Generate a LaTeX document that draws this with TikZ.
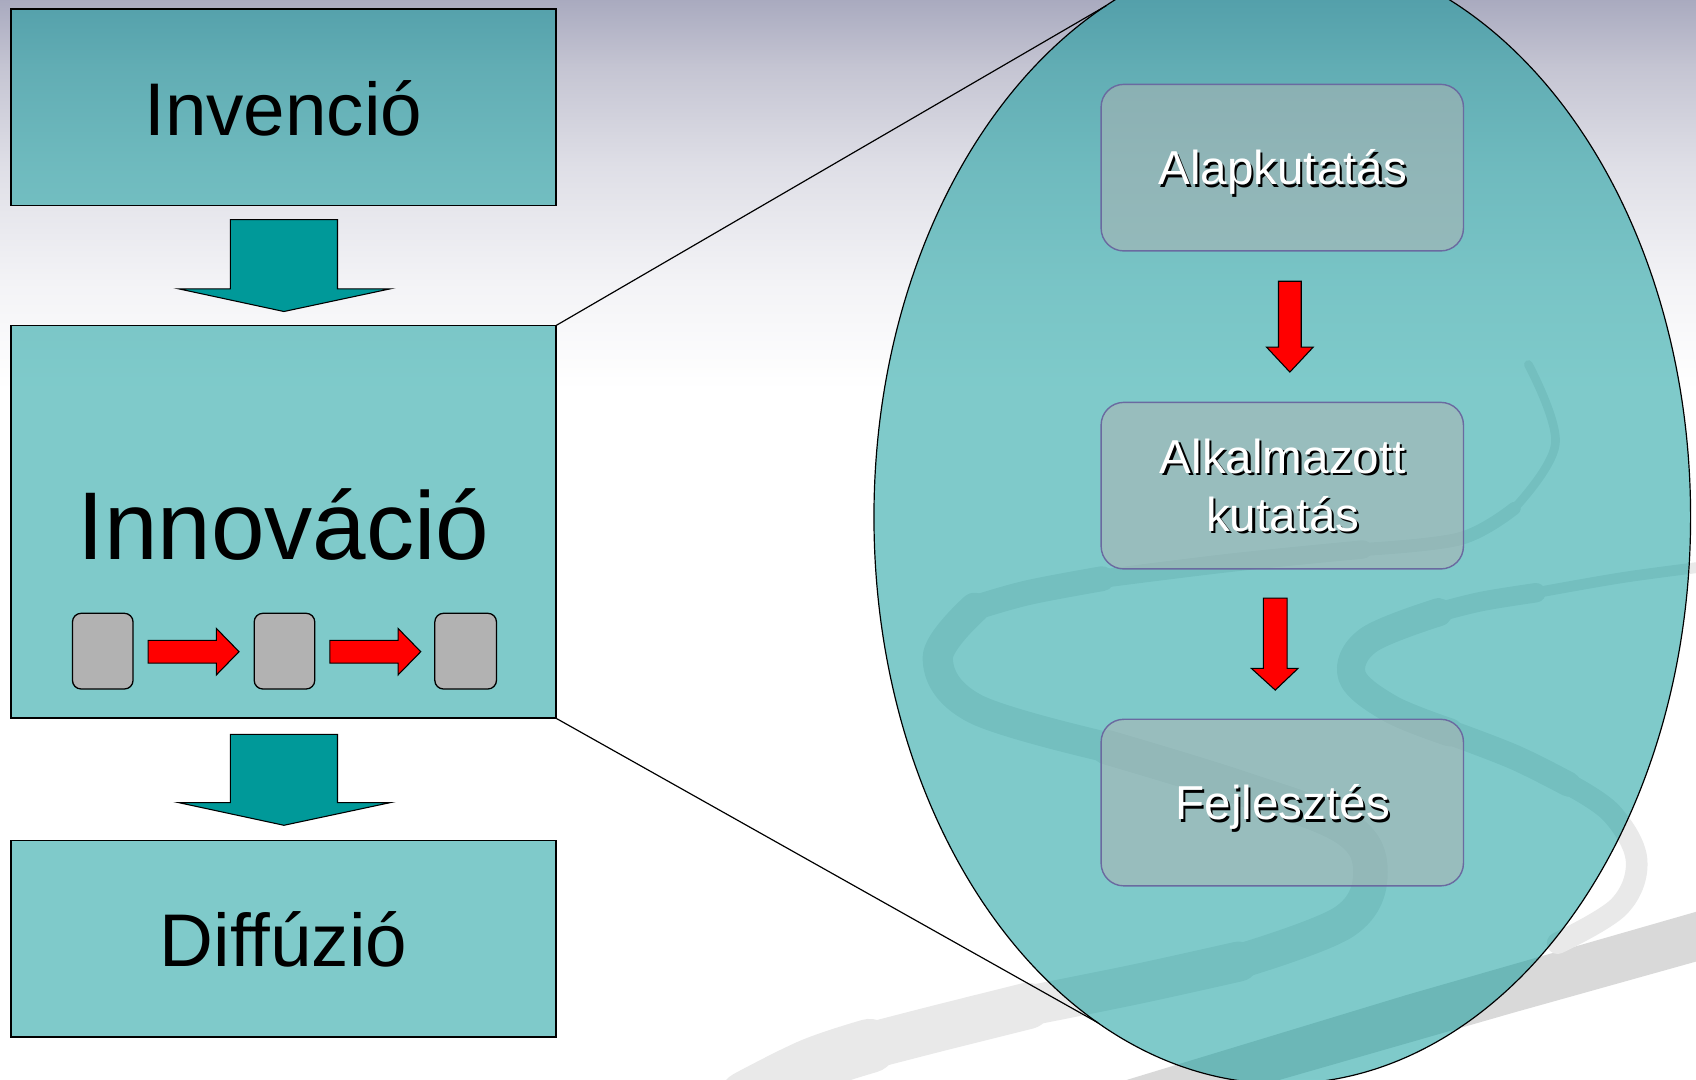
\documentclass[tikz,border=0pt]{standalone}
\usepackage{fontspec}
\setmainfont{Liberation Sans}
\usetikzlibrary{shapes.geometric}
\definecolor{tealfill}{RGB}{0,151,151}
\definecolor{arrowteal}{RGB}{0,153,153}
\definecolor{boxgray}{RGB}{178,178,178}
\definecolor{innerborder}{RGB}{106,106,160}
\definecolor{bgA}{RGB}{169,170,191}
\definecolor{bgB}{RGB}{196,196,210}
\definecolor{bgC}{RGB}{222,222,230}
\definecolor{bgD}{RGB}{243,243,246}
\definecolor{swooshgray}{RGB}{233,233,233}
\definecolor{bandgray}{RGB}{217,217,217}
\definecolor{arrowred}{RGB}{255,0,0}
\tikzset{
  bigbox/.style={rectangle, draw=black, line width=1.6pt, fill=tealfill, fill opacity=0.5, inner sep=0pt, outer sep=0pt},
  graybox/.style={rectangle, rounded corners=8pt, draw=black, line width=1.2pt, fill=boxgray, inner sep=0pt, outer sep=0pt},
  innerbox/.style={rectangle, rounded corners=21pt, draw=innerborder, line width=1.3pt, fill=boxgray, fill opacity=0.5, inner sep=0pt, outer sep=0pt},
  tealarrow/.style={draw=black, line width=1pt, fill=arrowteal},
  redarrow/.style={draw=black, line width=1pt, fill=arrowred},
  connline/.style={draw=black, line width=1.1pt},
  swoosh/.style={draw=swooshgray, line cap=round, line join=round},
  bigtext/.style={anchor=base, inner sep=0pt, text=black},
  innertext/.style={anchor=base, inner sep=0pt, text=white, font=\fontsize{44}{50}\selectfont},
  shadowtext/.style={anchor=base, inner sep=0pt, text=black, font=\fontsize{44}{50}\selectfont}
}
\begin{document}
\begin{tikzpicture}[x=1pt,y=-1pt]
\useasboundingbox (0,0) rectangle (1568,998);
\clip (0,0) rectangle (1568,998);
% background
\fill[white] (0,0) rectangle (1568,998);
\shade[top color=bgA, bottom color=bgB] (0,-1) rectangle (1568,61);
\shade[top color=bgB, bottom color=bgC] (0,60) rectangle (1568,151);
\shade[top color=bgC, bottom color=bgD] (0,150) rectangle (1568,261);
\shade[top color=bgD, bottom color=white] (0,260) rectangle (1568,361);
% decorative swooshes
\fill[bandgray] (1568,843) -- (1300,920) -- (1020,1005) -- (1160,1005) -- (1400,936) -- (1568,889) -- cycle;
\draw[swoosh, line width=8pt] plot[smooth, tension=0.6] coordinates {(1413,337) (1438,410) (1400,470)};
\draw[swoosh, line width=12pt] plot[smooth, tension=0.6] coordinates {(1400,470) (1350,498) (1260,508)};
\draw[swoosh, line width=17pt] plot[smooth, tension=0.6] coordinates {(1260,508) (1140,520) (1019,535)};
\draw[swoosh, line width=23pt] plot[smooth, tension=0.6] coordinates {(1019,535) (950,548) (901,562)};
\draw[swoosh, line width=28pt] plot[smooth, tension=0.6] coordinates {(901,562) (867,608) (901,655) (1024,691)};
\draw[swoosh, line width=32pt] plot[smooth, tension=0.6] coordinates {(1024,691) (1145,728) (1243,765) (1267,806) (1243,852) (1145,889)};
\draw[swoosh, line width=37pt] plot[smooth, tension=0.6] coordinates {(1145,889) (1050,910) (950,930)};
\draw[swoosh, line width=43pt] plot[smooth, tension=0.6] coordinates {(950,930) (870,950) (804,967)};
\draw[swoosh, line width=50pt] plot[smooth, tension=0.6] coordinates {(804,967) (750,985) (690,1015)};
\draw[swoosh, line width=10pt] plot[smooth, tension=0.6] coordinates {(1575,524) (1500,534) (1420,548)};
\draw[swoosh, line width=18pt] plot[smooth, tension=0.6] coordinates {(1420,548) (1370,556) (1330,566)};
\draw[swoosh, line width=26pt] plot[smooth, tension=0.6] coordinates {(1330,566) (1265,592) (1250,625) (1285,655) (1340,677)};
\draw[swoosh, line width=23pt] plot[smooth, tension=0.6] coordinates {(1340,677) (1400,700) (1450,725)};
\draw[swoosh, line width=20pt] plot[smooth, tension=0.6] coordinates {(1450,725) (1490,752) (1513,795) (1497,838) (1440,872)};
% ellipse
\node[ellipse, draw=black, line width=1.1pt, fill=tealfill, fill opacity=0.5, minimum width=755pt, minimum height=1048pt, inner sep=0pt, outer sep=0pt] (E) at (1185.5,478) {};
% left boxes
\node[bigbox, minimum width=504pt, minimum height=182pt] (inv) at (262,99) {};
\node[bigbox, minimum width=504pt, minimum height=363pt] (inn) at (262,482.5) {};
\node[bigbox, minimum width=504pt, minimum height=182pt] (dif) at (262,868) {};
% connector lines
\draw[connline] (inn.north east) -- (E.109.5);
\draw[connline] (inn.south east) -- (E.250.5);
% teal block arrows
\draw[tealarrow] (213,203) -- (312,203) -- (312,267) -- (361,267) -- (262.5,288) -- (165,267) -- (213,267) -- cycle;
\draw[tealarrow] (213,679) -- (312,679) -- (312,742) -- (361,742) -- (262.5,763) -- (165,742) -- (213,742) -- cycle;
% small grey boxes and red arrows
\node[graybox, minimum width=56pt, minimum height=70pt] (g1) at (95,602) {};
\node[graybox, minimum width=56pt, minimum height=70pt] (g2) at (263,602) {};
\node[graybox, minimum width=57pt, minimum height=70pt] (g3) at (430.5,602) {};
\draw[redarrow] (137,592) -- (200,592) -- (200,581) -- (221,602.5) -- (200,624) -- (200,613) -- (137,613) -- cycle;
\draw[redarrow] (305,592) -- (368,592) -- (368,581) -- (389,602.5) -- (368,624) -- (368,613) -- (305,613) -- cycle;
% texts left
\node[bigtext, font=\fontsize{69}{80}\selectfont] (tinv) at (262,125) {Invenció};
\node[bigtext, font=\fontsize{89}{100}\selectfont] (tinn) at (262,517) {Innováció};
\node[bigtext, font=\fontsize{69}{80}\selectfont] (tdif) at (262,894) {Diffúzió};
% inner boxes
\node[innerbox, minimum width=335pt, minimum height=154pt] (k1) at (1185.5,155) {};
\node[innerbox, minimum width=335pt, minimum height=154pt] (k2) at (1185.5,449) {};
\node[innerbox, minimum width=335pt, minimum height=154pt] (k3) at (1185.5,742) {};
% red vertical arrows
\draw[redarrow] (1182,260) -- (1203,260) -- (1203,321) -- (1214,321) -- (1192.5,344) -- (1171,321) -- (1182,321) -- cycle;
\draw[redarrow] (1168,553) -- (1190,553) -- (1190,618) -- (1200,618) -- (1179,638) -- (1157,618) -- (1168,618) -- cycle;
% inner texts with shadow
\node[shadowtext] (s1) at (1188,173) {Alapkutatás};
\node[innertext] (t1) at (1186,171) {Alapkutatás};
\node[shadowtext] (s2a) at (1188,440) {Alkalmazott};
\node[innertext] (t2a) at (1186,438) {Alkalmazott};
\node[shadowtext] (s2b) at (1188,493) {kutatás};
\node[innertext] (t2b) at (1186,491) {kutatás};
\node[shadowtext] (s3) at (1188,760) {Fejlesztés};
\node[innertext] (t3) at (1186,758) {Fejlesztés};
\end{tikzpicture}
\end{document}
